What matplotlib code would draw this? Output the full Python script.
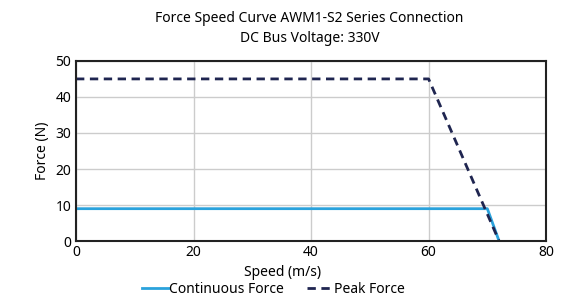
import matplotlib.pyplot as plt

speed_cont = [0, 70, 72]
force_cont = [9, 9, 0]
speed_peak = [0, 60, 72]
force_peak = [45, 45, 0]
x_ticks = [0, 20, 40, 60, 80]
y_ticks = [0, 10, 20, 30, 40, 50]

plt.rcParams['font.family'] = ['Noto Sans', 'DejaVu Sans']

fig = plt.figure(figsize=(5.63, 3.06), dpi=100)
ax = fig.add_axes([0.135, 0.212, 0.835, 0.589])

ax.plot(speed_cont, force_cont, color="#2aa2dc", lw=2, label="Continuous Force")
ax.plot(speed_peak, force_peak, color="#1f2550", lw=2, ls=(0, (3, 2)), label="Peak Force")

ax.set_xlim(0, 80)
ax.set_ylim(0, 50)
ax.set_xticks(x_ticks)
ax.set_yticks(y_ticks)
ax.grid(color="#cccccc", lw=1)
ax.tick_params(length=0, labelsize=10)
ax.tick_params(axis="x", pad=3)
for s in ax.spines.values():
    s.set_linewidth(1.5)
    s.set_color("#222222")

ax.set_xlabel("Speed (m/s)", fontsize=10, labelpad=0)
ax.xaxis.set_label_coords(0.44, -0.13)
ax.set_ylabel("Force (N)", fontsize=10)
fig.text(0.55, 0.94, "Force Speed Curve AWM1-S2 Series Connection", ha="center", va="center", fontsize=10)
fig.text(0.55, 0.875, "DC Bus Voltage: 330V", ha="center", va="center", fontsize=10)

ax.legend(loc="upper center", bbox_to_anchor=(0.42, -0.225), ncol=2, frameon=False,
          fontsize=10, handlelength=1.9, handletextpad=0.05, columnspacing=1.6,
          borderpad=0, borderaxespad=0)

fig.savefig("out.png", dpi=100)
